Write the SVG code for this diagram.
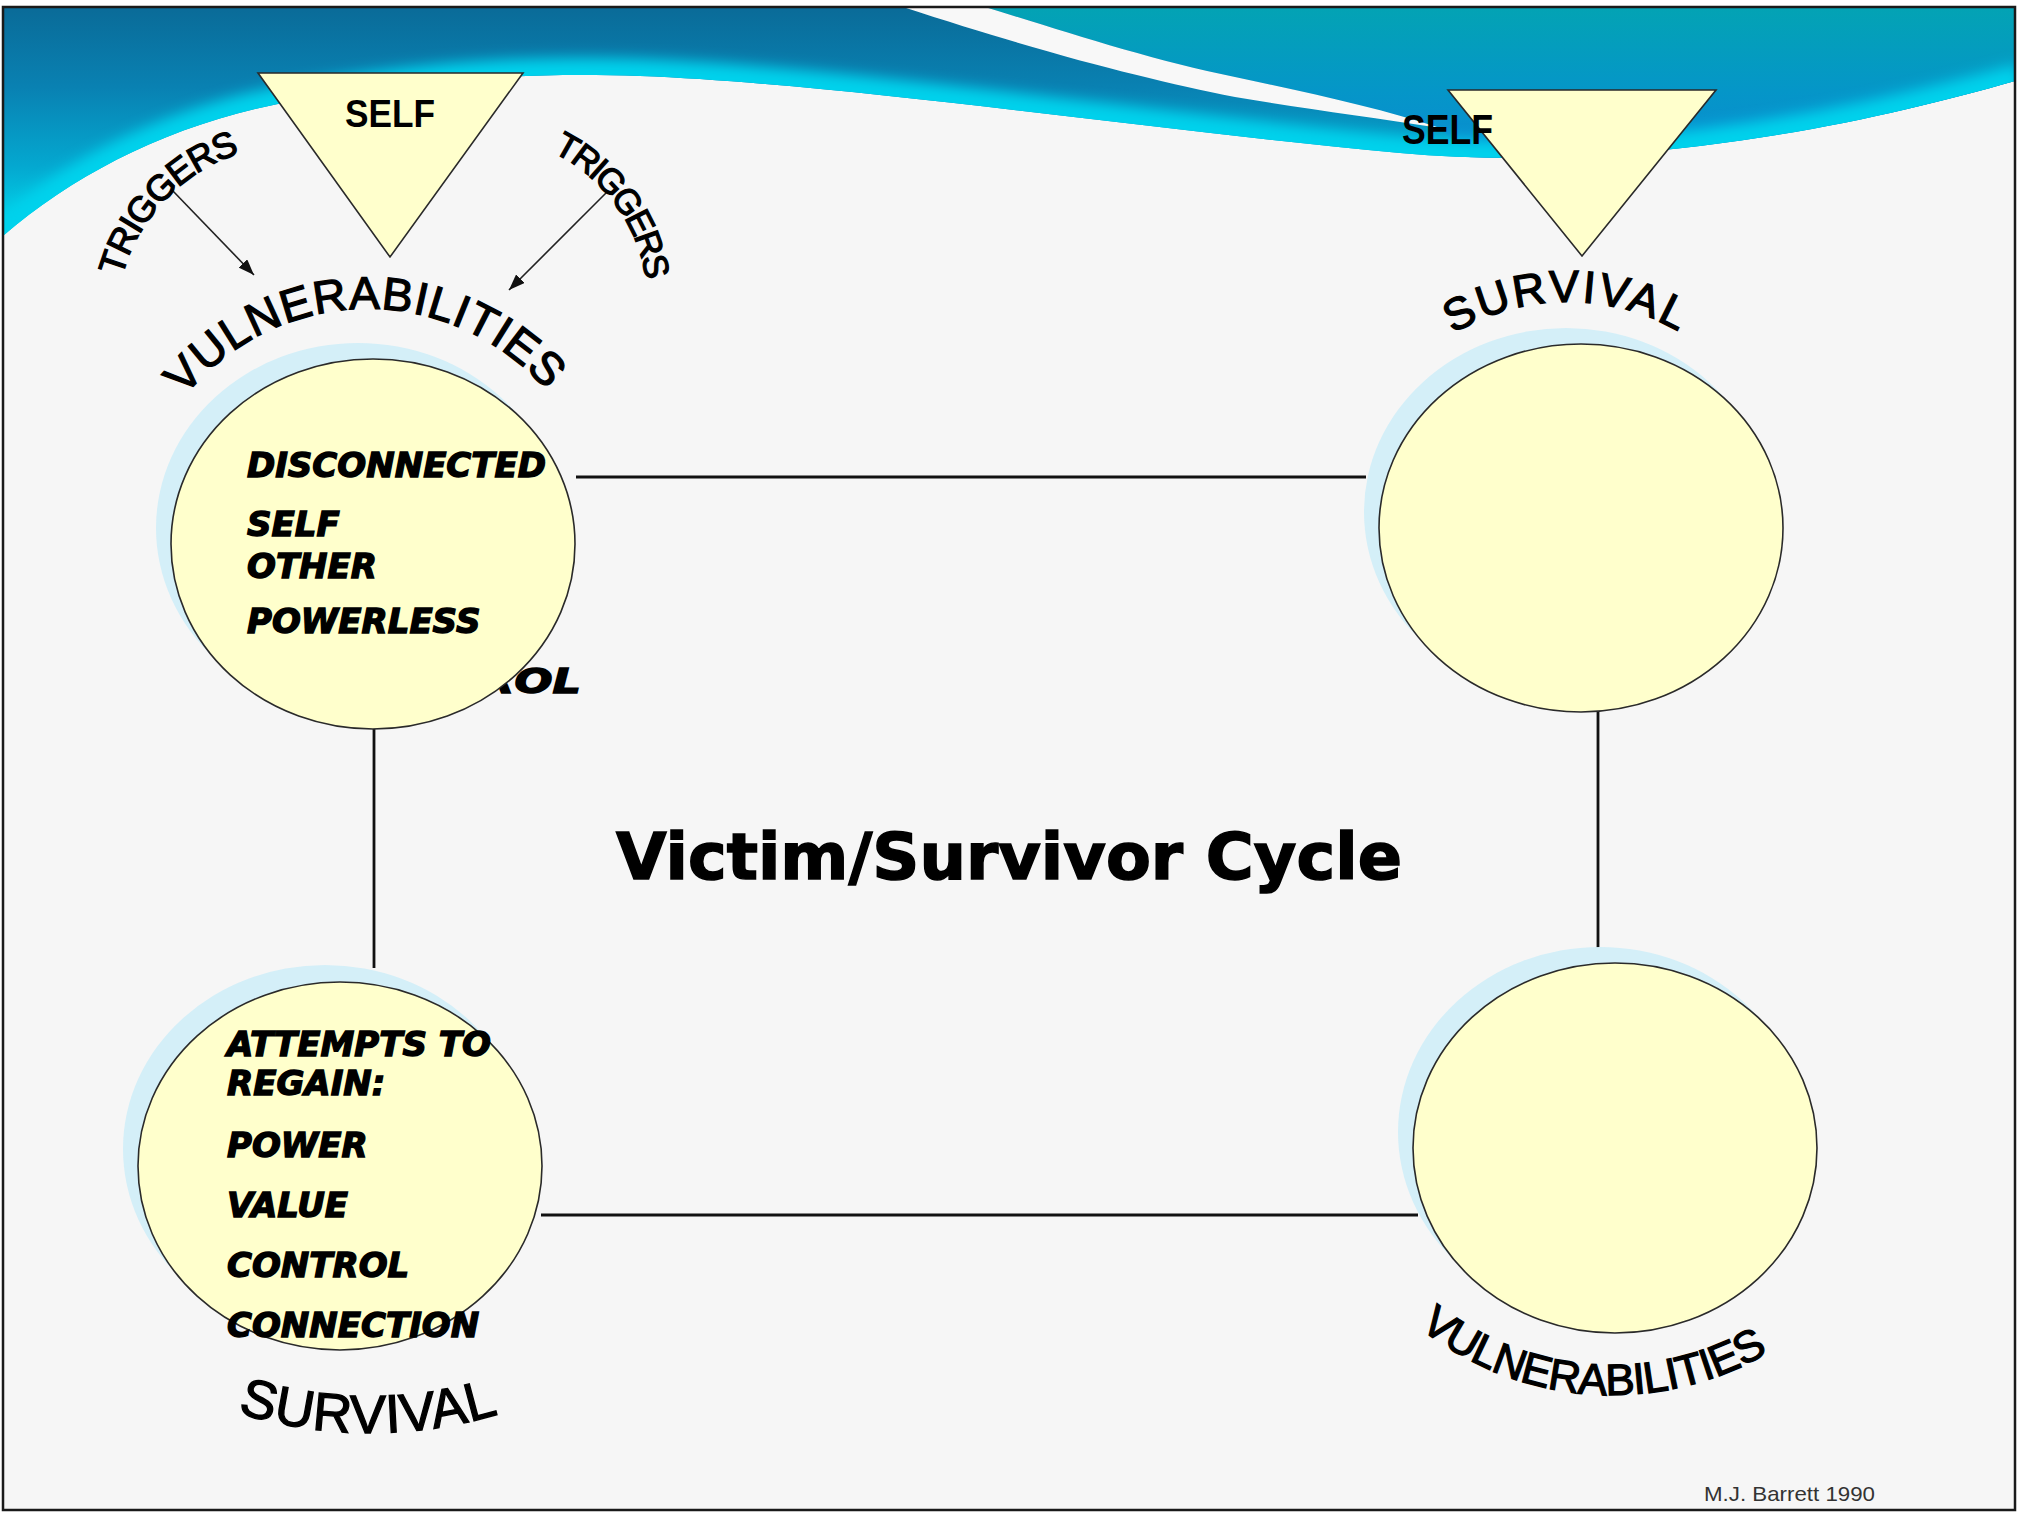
<svg xmlns="http://www.w3.org/2000/svg" width="2021" height="1513" viewBox="0 0 2021 1513">
<style>
.circ{fill:#ffffcc;stroke:#2a2a2a;stroke-width:1.6}
.shad{fill:#d4eff8}
.tri{fill:#ffffcc;stroke:#2a2a2a;stroke-width:1.6}
.conn{stroke:#111;stroke-width:2.8;fill:none}
.arr{stroke:#222;stroke-width:1.6;fill:none;marker-end:url(#ah)}
.inner{font-family:"DejaVu Sans",sans-serif;font-weight:bold;font-style:oblique;font-size:34px;fill:#000;stroke:#000;stroke-width:1.4}
.arc{font-family:"Liberation Sans",Arial,sans-serif;fill:#000;stroke:#000;stroke-width:1.3}
.self{font-family:"Liberation Sans",Arial,sans-serif;font-weight:bold;fill:#000}
</style>
<defs>
<linearGradient id="gL" gradientUnits="userSpaceOnUse" x1="0" y1="7" x2="0" y2="235">
<stop offset="0" stop-color="#0a6b98"/>
<stop offset="0.35" stop-color="#0981b2"/>
<stop offset="0.7" stop-color="#04a8d0"/>
<stop offset="1" stop-color="#00dcee"/>
</linearGradient>
<linearGradient id="gR" gradientUnits="userSpaceOnUse" x1="0" y1="7" x2="0" y2="160">
<stop offset="0" stop-color="#03a3b4"/>
<stop offset="0.55" stop-color="#0596c8"/>
<stop offset="1" stop-color="#0a8bd2"/>
</linearGradient>
<clipPath id="bannerClip">
<path d="M3,7 L2015,7 L2015,81 C1930,105 1830,130 1700,146 C1600,158 1500,162 1400,153 C1150,130 850,84 640,76 C520,72 420,80 300,100 C180,120 80,170 3,236 Z"/>
</clipPath>
<filter id="blur" x="-10%" y="-50%" width="120%" height="200%">
<feGaussianBlur stdDeviation="7"/>
</filter>
<marker id="ah" markerUnits="userSpaceOnUse" markerWidth="18" markerHeight="12" refX="16" refY="6" orient="auto">
<path d="M0,0 L16,6 L0,12 Z" fill="#111"/>
</marker>
<path id="pVulTop" d="M184.6,396.5 A236,236 0 0 1 548.8,393.3"/>
<path id="pSurvTop" d="M1453.2,333.8 A223,223 0 0 1 1680.8,332.7"/>
<path id="pVulBot" d="M1419.2,1327.5 A309,309 0 0 0 1766,1354"/>
<path id="pSurvBot" d="M237.5,1412.7 A443,443 0 0 0 501,1413.2"/>
<path id="pTrigL" d="M122,277 A179,179 0 0 1 240.5,153"/>
<path id="pTrigR" d="M552.5,152.2 A170,170 0 0 1 645.5,276.1"/>
</defs>

<g id="background">
<rect x="0" y="0" width="2021" height="1513" fill="#ffffff"/>
<rect x="3" y="7" width="2012" height="1503" fill="#f6f6f6"/>
<g clip-path="url(#bannerClip)">
<rect x="0" y="0" width="2021" height="240" fill="url(#gL)"/>
<path d="M985,7 L2021,7 L2021,81 C1930,105 1830,130 1700,146 C1620,156 1540,160 1470,158 L1440,128 C1380,108 1310,93 1235,77 C1150,60 1060,30 985,7 Z" fill="url(#gR)"/>
<path d="M3,236 C80,170 180,120 300,100 C420,80 520,72 640,76 C850,84 1150,130 1400,153 C1500,162 1600,158 1700,146 C1830,130 1930,105 2021,81" fill="none" stroke="#00d2ec" stroke-width="34" filter="url(#blur)"/>
<path d="M903,7 L985,7 C1060,30 1150,60 1235,77 C1310,93 1380,108 1440,128 C1370,117 1300,108 1235,97 C1150,80 1050,55 903,7 Z" fill="#f8f8f8"/>
</g>
<rect x="3" y="7" width="2012" height="1503" fill="none" stroke="#1a1a1a" stroke-width="2.5"/>
</g>

<g id="connectors">
<line class="conn" x1="576" y1="477" x2="1366" y2="477"/>
<line class="conn" x1="374" y1="728" x2="374" y2="968"/>
<line class="conn" x1="1598" y1="711" x2="1598" y2="948"/>
<line class="conn" x1="541" y1="1215" x2="1418" y2="1215"/>
<line class="arr" x1="172" y1="190" x2="254" y2="275"/>
<line class="arr" x1="607" y1="192" x2="509" y2="290"/>
</g>

<g id="self-left">
<polygon class="tri" points="258,73 523,73 390,257"/>
<text class="self" x="345" y="127" font-size="38" textLength="90" lengthAdjust="spacingAndGlyphs">SELF</text>
</g>

<g id="self-right">
<polygon class="tri" points="1448,90 1716,90 1582,256"/>
<text class="self" x="1402" y="144" font-size="42" textLength="91" lengthAdjust="spacingAndGlyphs">SELF</text>
</g>

<g id="triggers-left">
<text class="arc" font-size="36"><textPath href="#pTrigL" textLength="178">TRIGGERS</textPath></text>
</g>
<g id="triggers-right">
<text class="arc" font-size="35"><textPath href="#pTrigR" textLength="165">TRIGGERS</textPath></text>
</g>

<g id="node-vulnerabilities-top">
<text class="inner" x="341" y="693" textLength="240" lengthAdjust="spacingAndGlyphs">CONTROL</text>
<ellipse class="shad" cx="358" cy="528" rx="202" ry="185"/>
<ellipse class="circ" cx="373" cy="544" rx="202" ry="185"/>
<text class="arc" font-size="46"><textPath href="#pVulTop" textLength="412">VULNERABILITIES</textPath></text>
<text class="inner" font-size="33.5" x="247" y="477">DISCONNECTED</text>
<text class="inner" font-size="33.5" x="247" y="536">SELF</text>
<text class="inner" font-size="33.5" x="247" y="578">OTHER</text>
<text class="inner" font-size="33.5" x="247" y="633">POWERLESS</text>
</g>

<g id="node-survival-top">
<ellipse class="shad" cx="1566" cy="512" rx="202" ry="184"/>
<ellipse class="circ" cx="1581" cy="528" rx="202" ry="184"/>
<text class="arc" font-size="45"><textPath href="#pSurvTop" textLength="236">SURVIVAL</textPath></text>
</g>

<g id="node-survival-bottom">
<ellipse class="shad" cx="325" cy="1149" rx="202" ry="184"/>
<ellipse class="circ" cx="340" cy="1166" rx="202" ry="184"/>
<text class="inner" x="227" y="1056">ATTEMPTS TO</text>
<text class="inner" x="227" y="1095">REGAIN:</text>
<text class="inner" x="227" y="1157">POWER</text>
<text class="inner" x="227" y="1217">VALUE</text>
<text class="inner" x="227" y="1277">CONTROL</text>
<text class="inner" x="227" y="1337">CONNECTION</text>
<text class="arc" font-size="54"><textPath href="#pSurvBot" textLength="265">SURVIVAL</textPath></text>
</g>

<g id="node-vulnerabilities-bottom">
<ellipse class="shad" cx="1600" cy="1132" rx="202" ry="185"/>
<ellipse class="circ" cx="1615" cy="1148" rx="202" ry="185"/>
<text class="arc" font-size="44"><textPath href="#pVulBot" textLength="372">VULNERABILITIES</textPath></text>
</g>

<g id="title">
<text x="616" y="879" font-family="'DejaVu Sans',Verdana,sans-serif" font-weight="bold" font-size="64" stroke="#000" stroke-width="1.5" textLength="786" lengthAdjust="spacingAndGlyphs">Victim/Survivor Cycle</text>
</g>

<g id="credit">
<text x="1704" y="1501" font-family="'Liberation Sans',Arial,sans-serif" font-size="21" fill="#333" textLength="171" lengthAdjust="spacingAndGlyphs">M.J. Barrett 1990</text>
</g>
</svg>
